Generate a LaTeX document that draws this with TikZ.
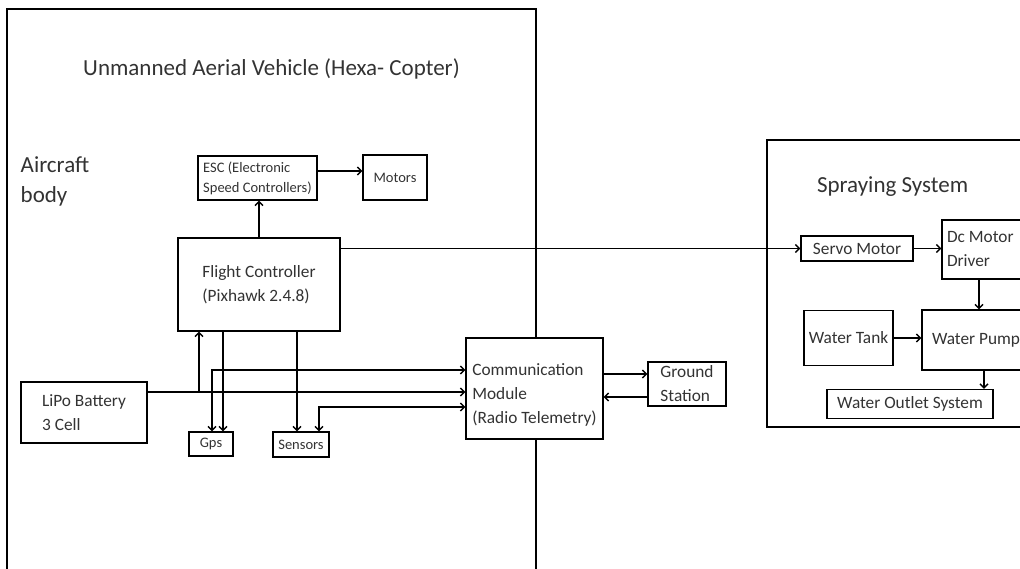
\documentclass[tikz,border=0pt]{standalone}
\usepackage{fontspec}
\setmainfont{Carlito}
\usetikzlibrary{arrows.meta}

\newcommand{\smallf}{\fontsize{14.5}{20}\selectfont}
\newcommand{\midf}{\fontsize{17.3}{24}\selectfont}
\newcommand{\bigf}{\fontsize{23}{30}\selectfont}

\begin{document}
\begin{tikzpicture}[x=1pt, y=-1pt, line width=1.4pt, text=black!80,
	>={Straight Barb[length=4pt,width=8pt]},
	blk/.style={draw, fill=white, inner sep=0pt, align=flush left, font=\midf},
	sblk/.style={blk, font=\smallf}]
	\useasboundingbox (0,0) rectangle (1020,569);
	\clip (0,0) rectangle (1020,569);

	\draw (7,9) rectangle (536,600);
	\draw (767,140) rectangle (1040,427);
	\node[anchor=base, font=\bigf] (uav) at (271.5,76) {Unmanned Aerial Vehicle (Hexa- Copter)};
	\node[anchor=north west, inner sep=0pt, align=left, font=\bigf] (body) at (20,156) {Aircraft\\body};
	\node[anchor=base west, font=\bigf] (spray) at (813,193) {Spraying System};

	\node[sblk, minimum width=119pt, minimum height=44pt] (esc) at (257.5,178) {ESC (Electronic\\Speed Controllers)};
	\node[sblk, minimum width=64pt, minimum height=45pt] (motors) at (395,177.5) {Motors};
	\node[blk, minimum width=162pt, minimum height=93pt] (fc) at (259,284.5) {Flight Controller\\(Pixhawk 2.4.8)};
	\node[blk, minimum width=126pt, minimum height=61pt] (lipo) at (84,412.5) {LiPo Battery\\3 Cell};
	\node[sblk, minimum width=44pt, minimum height=24pt] (gps) at (211,444) {Gps};
	\node[sblk, minimum width=56pt, minimum height=25pt] (sensors) at (301,444.5) {Sensors};
	\node[blk, minimum width=137pt, minimum height=101pt] (comm) at (534.5,388.5) {\rule{0pt}{25pt}Communication\\Module\\(Radio Telemetry)};
	\node[blk, minimum width=78pt, minimum height=44pt] (ground) at (687,384) {Ground\\Station};

	\node[blk, minimum width=112pt, minimum height=25pt] (servo) at (857,248.5) {Servo Motor};
	\node[blk, minimum height=59pt, inner xsep=5pt, text width=90pt] (dcm) at (992,249.5) {Dc Motor\\Driver};
	\node[blk, minimum width=89pt, minimum height=55pt] (tank) at (848.5,338) {Water Tank};
	\node[blk, minimum height=60pt, inner xsep=10pt, text width=100pt] (pump) at (982,340) {Water Pump};
	\node[blk, minimum width=166pt, minimum height=29pt] (outlet) at (910,404) {Water Outlet System};

	\coordinate (escout) at ([yshift=7pt]esc.east);
	\coordinate (tap) at (199,392);
	\draw[->] (fc.north) -- (fc.north |- esc.south);
	\draw[->] (escout) -- (escout -| motors.west);
	\draw[->] (fc.east |- servo.west) -- (servo.west);
	\draw[->] (servo.east) -- (servo.east -| dcm.west);
	\draw[->] (dcm.south -| 979,0) -- (pump.north -| 979,0);
	\draw[->] (tank.east) -- (tank.east -| pump.west);
	\draw[->] (pump.south -| 984,0) -- (outlet.north -| 984,0);

	\draw[->] (lipo.east |- tap) -- (comm.west |- tap);
	\draw[->] (tap) -- (fc.south -| tap);
	\draw[->] (fc.south -| 223,0) -- (gps.north -| 223,0);
	\draw[<->] (gps.north -| 212,0) |- (comm.west |- 0,370);
	\draw[->] (fc.south -| 297,0) -- (sensors.north -| 297,0);
	\draw[<->] (sensors.north -| 319,0) |- (comm.west |- 0,407);
	\draw[->] (comm.east |- 0,374) -- (ground.west |- 0,374);
	\draw[->] (ground.west |- 0,397) -- (comm.east |- 0,397);
\end{tikzpicture}
\end{document}
